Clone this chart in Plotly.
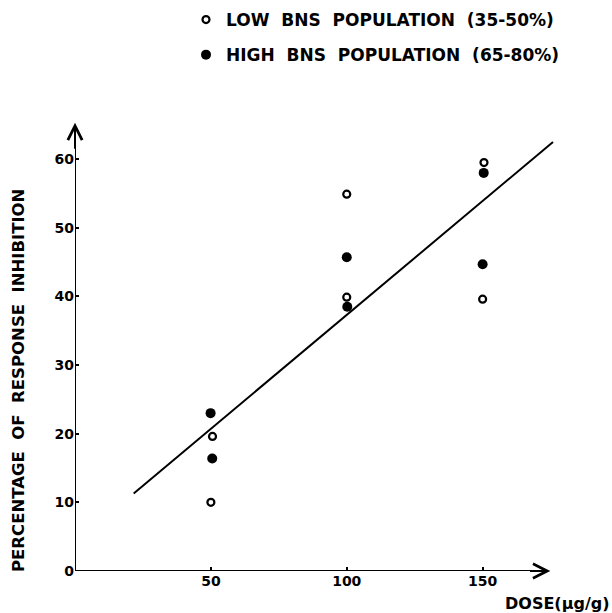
import plotly.graph_objects as go

# ---- data ----
low_dose = [50, 50.6, 100, 100, 150.5, 150]
low_inhib = [10.0, 19.6, 54.9, 39.9, 59.5, 39.6]
high_dose = [49.9, 50.5, 100, 100.2, 150.4, 150]
high_inhib = [23.0, 16.4, 45.7, 38.5, 58.0, 44.7]
fit_dose = [21.6, 175.9]
fit_inhib = [11.3, 62.5]
x_ticks = [50, 100, 150]
y_ticks = [0, 10, 20, 30, 40, 50, 60]
low_label = "LOW  BNS  POPULATION  (35-50%)"
high_label = "HIGH  BNS  POPULATION  (65-80%)"
x_title = "DOSE(μg/g)"
y_title = "PERCENTAGE  OF  RESPONSE  INHIBITION"

FONT = "DejaVu Sans"

fig = go.Figure()
fig.add_trace(go.Scatter(
    x=fit_dose, y=fit_inhib, mode="lines",
    line=dict(color="black", width=2), showlegend=False, cliponaxis=False))
fig.add_trace(go.Scatter(
    x=low_dose, y=low_inhib, mode="markers", name=low_label,
    legendgroup="low",
    marker=dict(symbol="circle-open", size=7, color="black",
                line=dict(width=2.2, color="black")), cliponaxis=False))
fig.add_trace(go.Scatter(
    x=high_dose, y=high_inhib, mode="markers", name=high_label,
    legendgroup="high",
    marker=dict(symbol="circle", size=10, color="black"), cliponaxis=False))

X_END = 174.9
Y_END = 65.3
# axis lines
fig.add_shape(type="line", x0=0, y0=0, x1=X_END - 1, y1=0, xref="x", yref="y",
              line=dict(color="black", width=2))
fig.add_shape(type="line", x0=0, y0=0, x1=0, y1=Y_END - 0.5, xref="x", yref="y",
              line=dict(color="black", width=2))
# arrow heads
fig.add_annotation(x=X_END, y=0, ax=X_END - 8, ay=0, xref="x", yref="y",
                   axref="x", ayref="y", text="", showarrow=True,
                   arrowhead=5, arrowsize=1.4, arrowwidth=2, arrowcolor="black")
fig.add_annotation(x=0, y=Y_END, ax=0, ay=Y_END - 4, xref="x", yref="y",
                   axref="x", ayref="y", text="", showarrow=True,
                   arrowhead=5, arrowsize=1.4, arrowwidth=2, arrowcolor="black")

# titles
fig.add_annotation(x=611, y=603, xref="paper", yref="paper", text=x_title,
                   showarrow=False, font=dict(family=FONT, size=16, color="black", weight="bold"),
                   xanchor="right", yanchor="middle")
fig.add_annotation(x=18, y=381, xref="paper", yref="paper", text=y_title,
                   showarrow=False, textangle=-90,
                   font=dict(family=FONT, size=16.5, color="black", weight="bold"),
                   xanchor="center", yanchor="middle")

L, R, T, B = 75, 56, 118, 42
W, H = 612, 613
pw, ph = W - L - R, H - T - B

# convert annotation pixel positions to paper coordinates
for ann in fig.layout.annotations:
    if ann.xref == "paper":
        px, py = ann.x, ann.y
        ann.x = (px - L) / pw
        ann.y = (H - B - py) / ph

fig.update_layout(
    width=W, height=H,
    margin=dict(l=L, r=R, t=T, b=B, autoexpand=False),
    paper_bgcolor="white", plot_bgcolor="white",
    font=dict(family=FONT, color="black"),
    showlegend=True,
    legend=dict(x=(186 - L) / pw, y=(H - B - 2) / ph, xanchor="left", yanchor="top",
                font=dict(family=FONT, size=17, color="black", weight="bold"),
                traceorder="grouped", tracegroupgap=10,
                bgcolor="rgba(0,0,0,0)", borderwidth=0),
    xaxis=dict(range=[0, 177], showgrid=False, zeroline=False, showline=False,
               tickvals=x_ticks, ticktext=[str(v) for v in x_ticks],
               ticks="inside", ticklen=4, tickwidth=1.5, tickcolor="black",
               tickfont=dict(family=FONT, size=14, color="black", weight="bold")),
    yaxis=dict(range=[0, 66], showgrid=False, zeroline=False, showline=False,
               tickvals=y_ticks, ticktext=[str(v) for v in y_ticks],
               ticks="inside", ticklen=4, tickwidth=1.5, tickcolor="black",
               tickfont=dict(family=FONT, size=14, color="black", weight="bold")),
)

fig.write_html(
    "out.html",
    config={"displayModeBar": False},
    post_script="document.body.style.margin='0';document.body.style.overflow='hidden';",
)
